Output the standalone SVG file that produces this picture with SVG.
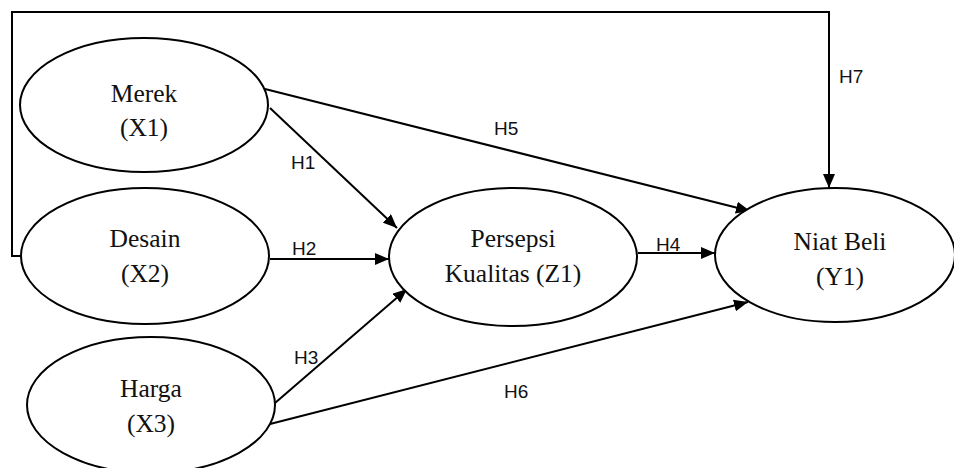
<svg xmlns="http://www.w3.org/2000/svg" width="954" height="468" viewBox="0 0 954 468">
  <style>
    .node ellipse { fill: #fff; stroke: #000; stroke-width: 2; }
    .node text { font-family: "Liberation Serif", "Times New Roman", serif; font-size: 25.5px; fill: #111; text-anchor: middle; }
    .edge { fill: none; stroke: #000; stroke-width: 2; }
    .arrow { marker-end: url(#head); }
    .lbl { font-family: "Liberation Sans", Arial, sans-serif; font-size: 19px; fill: #111; }
  </style>
  <defs>
    <marker id="head" markerUnits="userSpaceOnUse" markerWidth="14" markerHeight="12" viewBox="0 0 14 12" refX="14" refY="6" orient="auto">
      <path d="M0,0 L14,6 L0,12 Z" fill="#000"/>
    </marker>
  </defs>
  <rect width="954" height="468" fill="#fff"/>

  <g id="connectors">
    <!-- H7: Desain to Niat Beli around the top -->
    <path class="edge arrow" d="M21,256 H12 V12 H829 V188"/>
    <!-- H1 -->
    <line class="edge arrow" x1="270" y1="108" x2="397" y2="228"/>
    <!-- H5 -->
    <line class="edge arrow" x1="265" y1="89" x2="750" y2="211"/>
    <!-- H2 -->
    <line class="edge arrow" x1="270" y1="259" x2="389" y2="259"/>
    <!-- H3 -->
    <line class="edge arrow" x1="275" y1="403" x2="407" y2="289"/>
    <!-- H6 -->
    <line class="edge arrow" x1="270" y1="424" x2="748" y2="302"/>
    <!-- H4 -->
    <line class="edge arrow" x1="638" y1="253" x2="715" y2="253"/>
    <text class="lbl" x="291" y="169">H1</text>
    <text class="lbl" x="292" y="255">H2</text>
    <text class="lbl" x="294" y="364">H3</text>
    <text class="lbl" x="656" y="251">H4</text>
    <text class="lbl" x="494" y="135">H5</text>
    <text class="lbl" x="504" y="398">H6</text>
    <text class="lbl" x="839" y="83">H7</text>
  </g>

  <g id="merek" class="node">
    <ellipse cx="144" cy="105" rx="124" ry="67"/>
    <text x="144" y="102">Merek</text>
    <text x="144" y="136">(X1)</text>
  </g>
  <g id="desain" class="node">
    <ellipse cx="145" cy="256" rx="124" ry="68"/>
    <text x="145" y="247">Desain</text>
    <text x="145" y="282">(X2)</text>
  </g>
  <g id="harga" class="node">
    <ellipse cx="151" cy="405" rx="124" ry="68"/>
    <text x="151" y="397">Harga</text>
    <text x="151" y="432">(X3)</text>
  </g>
  <g id="persepsi" class="node">
    <ellipse cx="513" cy="257" rx="124" ry="69"/>
    <text x="513" y="247">Persepsi</text>
    <text x="513" y="282">Kualitas (Z1)</text>
  </g>
  <g id="niat-beli" class="node">
    <ellipse cx="835" cy="255" rx="120" ry="67"/>
    <text x="840" y="250">Niat Beli</text>
    <text x="840" y="285">(Y1)</text>
  </g>
</svg>
